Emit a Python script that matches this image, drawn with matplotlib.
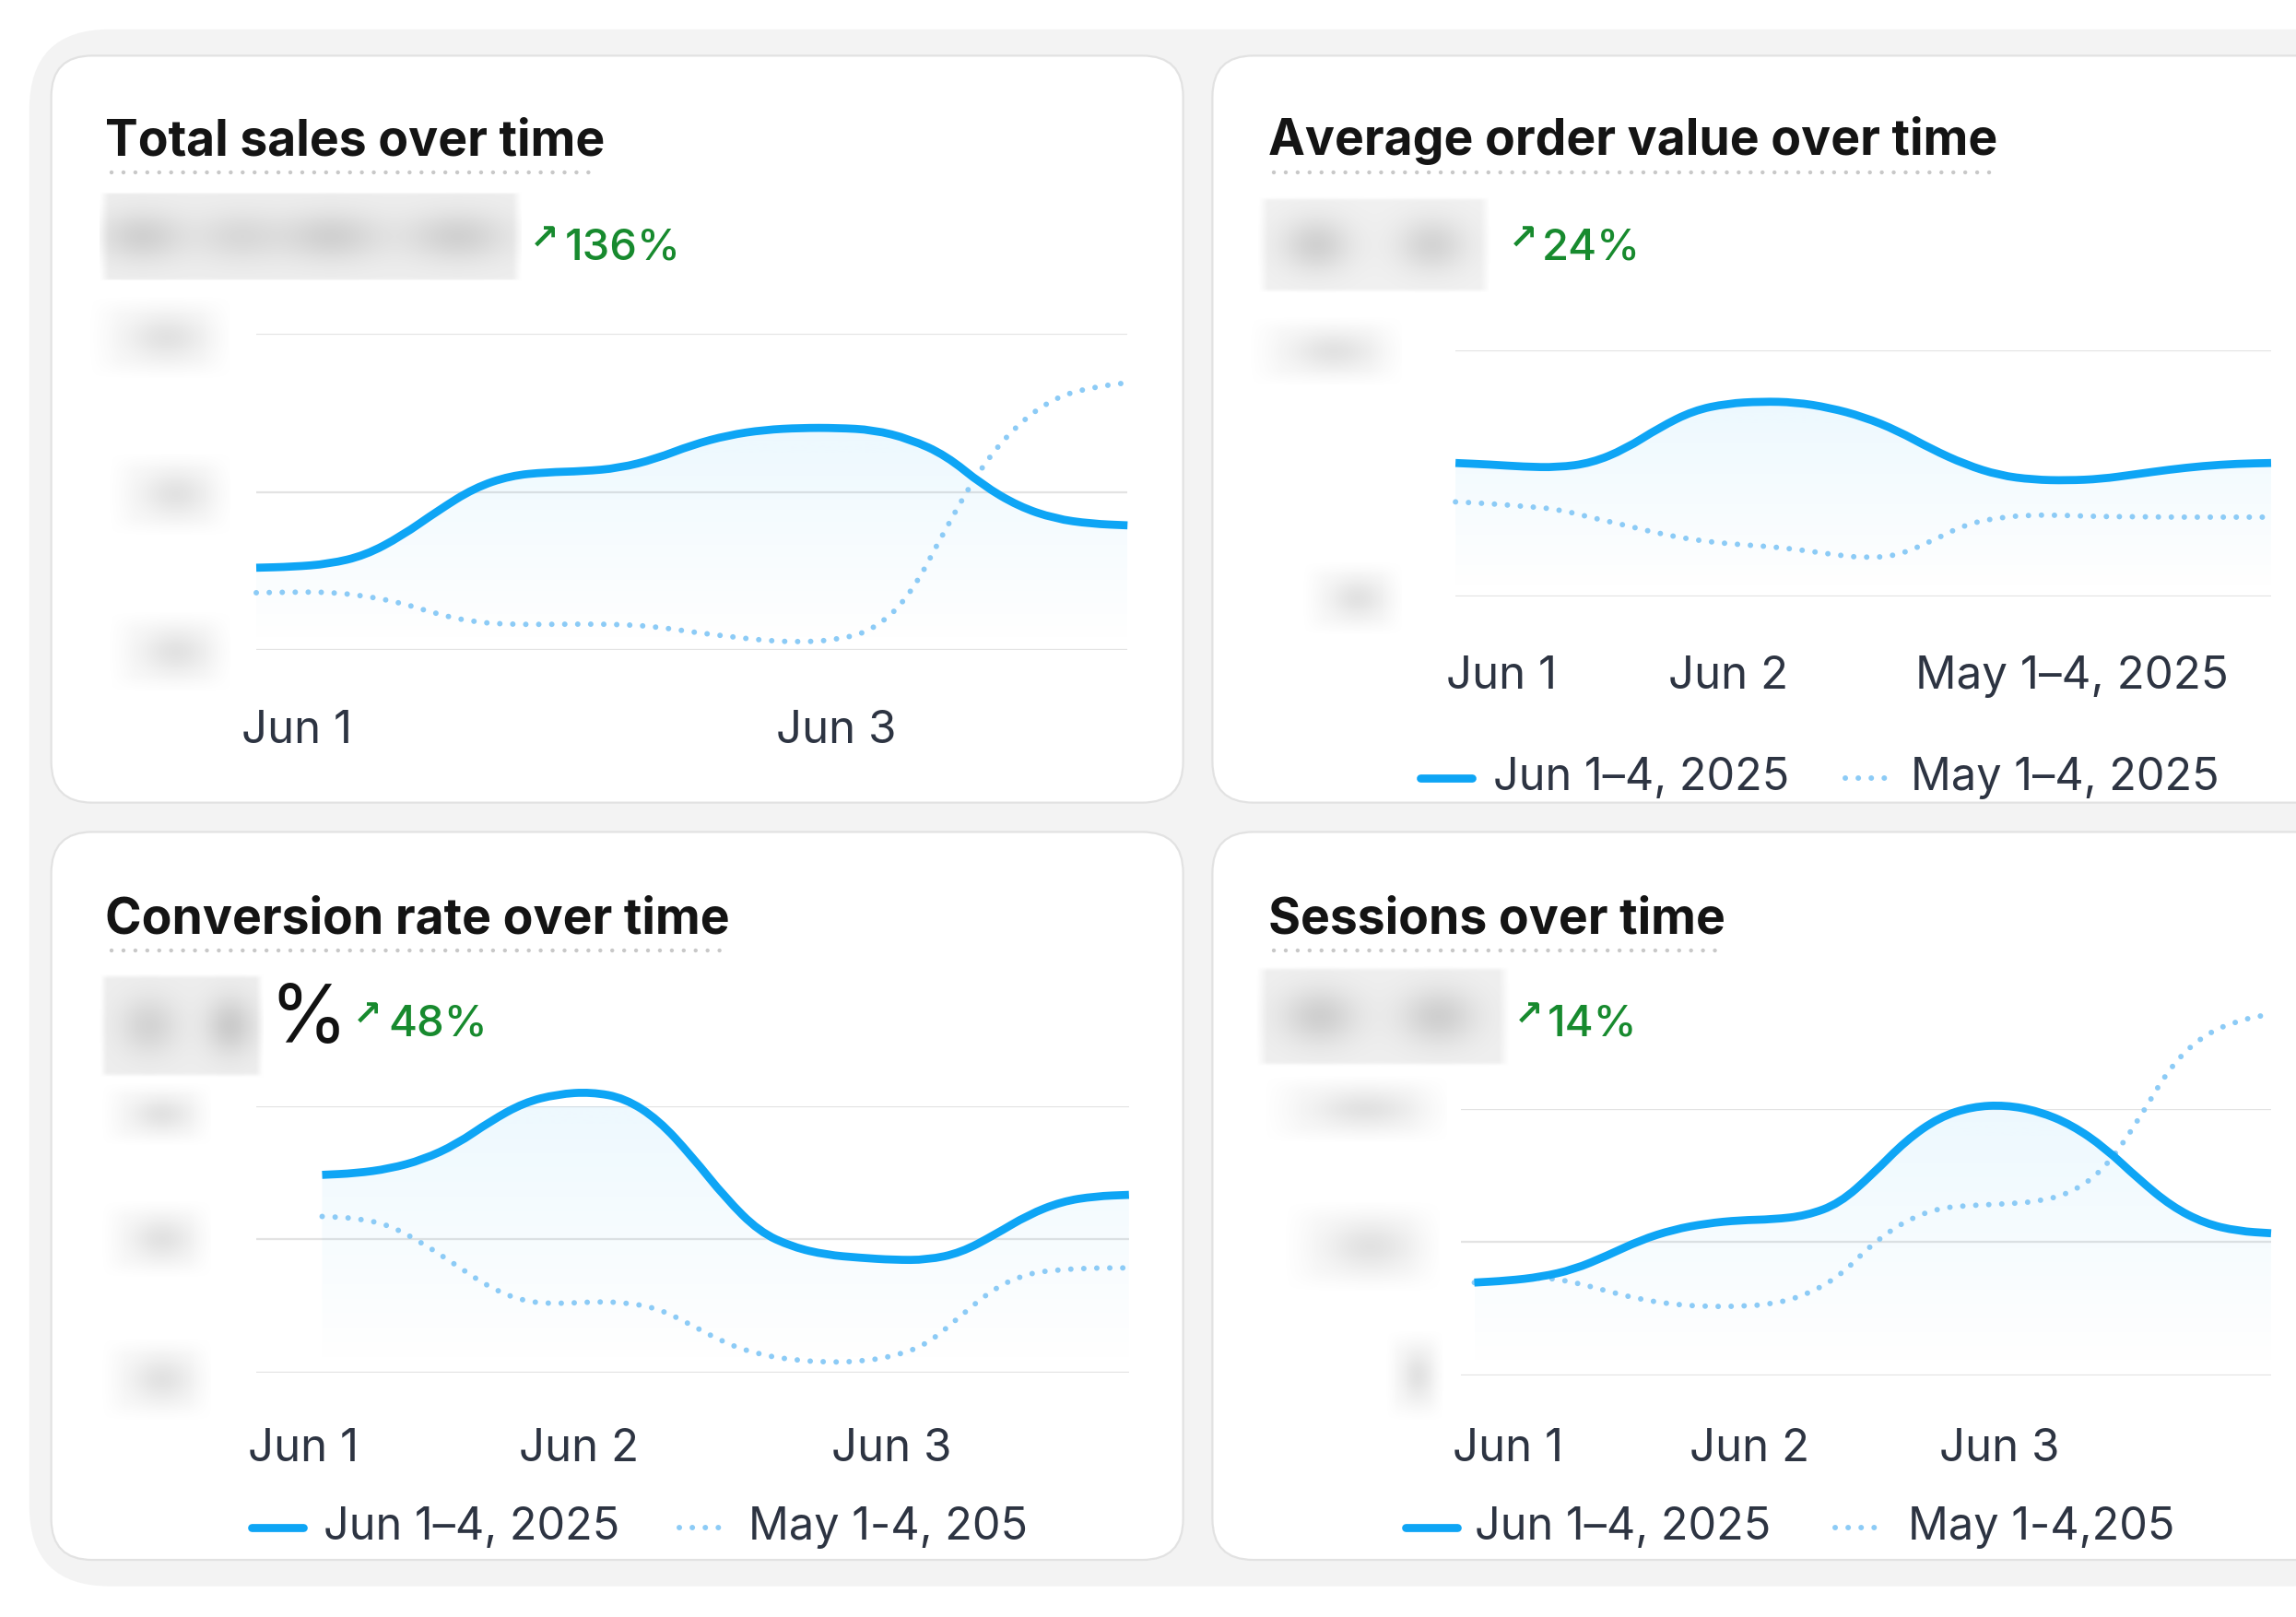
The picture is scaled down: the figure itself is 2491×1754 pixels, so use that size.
import numpy as np
import matplotlib.pyplot as plt
from matplotlib.patches import FancyBboxPatch, PathPatch
from matplotlib.path import Path
from matplotlib.colors import to_rgb

plt.rcParams['font.family'] = ['Inter', 'DejaVu Sans']

# ---- data (y in % of the top gridline) ----
sales_now = [26.1, 26.4, 27.3, 30.0, 36.1, 44.1, 51.3, 55.2, 56.3, 56.6, 57.6, 60.5, 64.9,
             68.0, 69.7, 70.3, 70.3, 69.7, 66.8, 61.6, 52.3, 45.5, 41.6, 40.0, 39.5]
sales_prev = [18.2, 18.4, 18.4, 17.2, 15.0, 11.4, 8.9, 8.2, 8.2, 8.3, 8.2, 7.5, 5.8,
              4.4, 3.1, 2.6, 3.3, 6.3, 16.9, 38.7, 58.6, 71.8, 79.9, 83.1, 84.6]

aov_now = [54.1, 53.5, 52.6, 52.3, 54.1, 59.8, 68.5, 75.4, 78.3, 79.1, 78.8, 76.6, 72.9,
           67.3, 59.8, 53.5, 49.1, 47.3, 47.0, 47.6, 49.5, 51.4, 52.9, 53.8, 54.1]
aov_prev = [38.3, 37.6, 36.5, 35.4, 31.9, 28.8, 25.4, 22.9, 21.3, 20.4, 19.1, 17.1, 15.5,
            16.4, 22.3, 29.1, 32.0, 33.0, 32.8, 32.3, 32.3, 32.1, 32.1, 32.1, 32.1]

conv_now = [74.1, 74.7, 76.4, 79.8, 85.6, 94.2, 101.2, 104.4, 105.2, 102.9, 94.8, 81.0, 65.4,
            52.8, 47.0, 44.1, 43.0, 42.2, 42.2, 44.9, 51.6, 59.1, 64.1, 66.1, 66.6]
conv_prev = [58.5, 57.9, 55.3, 48.4, 40.1, 31.7, 26.6, 25.7, 26.5, 26.3, 24.0, 17.7, 10.9,
             6.7, 4.7, 3.8, 4.1, 6.0, 10.5, 21.3, 31.7, 37.2, 38.6, 39.2, 39.2]

sess_now = [34.8, 35.5, 36.9, 39.7, 44.9, 50.7, 54.7, 57.0, 58.2, 58.5, 59.9, 64.5, 75.5,
            88.1, 96.8, 100.8, 101.4, 99.1, 93.9, 85.3, 73.7, 63.4, 57.0, 54.1, 53.3]
sess_prev = [34.8, 35.5, 36.9, 35.0, 31.6, 28.5, 26.6, 25.8, 25.9, 26.7, 30.2, 37.1, 49.5,
             58.1, 62.8, 63.8, 64.3, 65.2, 68.5, 77.5, 95.6, 116.7, 127.9, 133.1, 135.6]

titles = ["Total sales over time", "Average order value over time",
          "Conversion rate over time", "Sessions over time"]
changes = ["136%", "24%", "48%", "14%"]
sales_ticks = ["Jun 1", "Jun 3"]
aov_ticks = ["Jun 1", "Jun 2", "May 1\u20134, 2025"]
conv_ticks = ["Jun 1", "Jun 2", "Jun 3"]
sess_ticks = ["Jun 1", "Jun 2", "Jun 3"]
aov_legend = ["Jun 1\u20134, 2025", "May 1\u20134, 2025"]
conv_legend = ["Jun 1\u20134, 2025", "May 1-4, 205"]
sess_legend = ["Jun 1\u20134, 2025", "May 1-4,205"]

BLUE = '#0ea5f5'
LIGHT = '#8ccbf6'
GREEN = '#178a2e'
INK = '#2d3442'

# layout units = reference picture scaled to 1568 wide
W, H = 1568, 1104
fig = plt.figure(figsize=(24.91, 17.54), dpi=100)
fig.patch.set_facecolor('white')
bg = fig.add_axes([0, 0, 1, 1])
bg.set_xlim(0, W)
bg.set_ylim(H, 0)
bg.axis('off')


def rect(x0, y0, x1, y1):
    return [x0 / W, 1 - y1 / H, (x1 - x0) / W, (y1 - y0) / H]


def card(x0, y0, x1, y1, r, fc, ec='none'):
    bg.add_patch(FancyBboxPatch((x0, y0), x1 - x0, y1 - y0,
                                boxstyle=f'round,pad=0,rounding_size={r}',
                                fc=fc, ec=ec, lw=1.6))


def blur(x0, y0, x1, y1, blobs, base=0.1, edge=0.15, shade=0.78):
    # blurred placeholder for hidden numbers
    h = 60
    w = max(int(h * (x1 - x0) / (y1 - y0)), 10)
    yy, xx = np.mgrid[0:1:h * 1j, 0:1:w * 1j]
    win = np.clip(np.minimum(xx, 1 - xx) / edge, 0, 1) * np.clip(np.minimum(yy, 1 - yy) / edge, 0, 1)
    a = base * win
    for cx, sx, amp in blobs:
        a = a + amp * np.exp(-((xx - cx) / sx) ** 2 - ((yy - 0.5) / 0.28) ** 2)
    img = np.zeros((h, w, 4))
    img[..., :3] = shade
    img[..., 3] = np.clip(a, 0, 1)
    bg.imshow(img, extent=(x0, x1, y1, y0), aspect='auto', interpolation='bilinear', zorder=2)


def smooth(x, y):
    # quadratic b-spline style path through the read points (rendering only)
    pts = np.column_stack([x, y])
    verts = [pts[0], (pts[0] + pts[1]) / 2]
    codes = [Path.MOVETO, Path.LINETO]
    for i in range(1, len(pts) - 1):
        verts += [pts[i], (pts[i] + pts[i + 1]) / 2]
        codes += [Path.CURVE3, Path.CURVE3]
    verts.append(pts[-1])
    codes.append(Path.LINETO)
    return verts, codes


# background and cards
card(20, 20, 1620, 1083, 55, '#f3f3f3')
card(35, 38, 808, 548, 28, 'white', '#e2e2e2')
card(828, 38, 1620, 548, 28, 'white', '#e2e2e2')
card(35, 568, 808, 1065, 28, 'white', '#e2e2e2')
card(828, 568, 1620, 1065, 28, 'white', '#e2e2e2')


def draw_chart(box, x0f, now, prev, grids, tickpos, ticklabels, pad):
    ax = fig.add_axes(rect(*box))
    ax.patch.set_alpha(0)
    x = np.linspace(x0f, 1, len(now))
    for g in grids:
        ax.axhline(g, color='#e3e3e3', lw=1.6, zorder=0)

    v, c = smooth(x, now)
    area = Path(v + [(1, 0), (x0f, 0), (x0f, 0)], c + [Path.LINETO, Path.LINETO, Path.CLOSEPOLY])
    img = np.zeros((100, 1, 4))
    img[..., :3] = to_rgb(BLUE)
    img[:, 0, 3] = np.linspace(0, 0.075, 100)
    im = ax.imshow(img, extent=(x0f, 1, 0, max(now)), origin='lower', aspect='auto',
                   interpolation='bilinear', zorder=1)
    im.set_clip_path(area, transform=ax.transData)

    vp, cp = smooth(x, prev)
    ax.add_patch(PathPatch(Path(vp, cp), fill=False, ec=LIGHT, lw=4.3, ls=(0, (0.01, 2.35)),
                           capstyle='round', clip_on=False, zorder=2))
    ax.add_patch(PathPatch(Path(v, c), fill=False, ec=BLUE, lw=6.3, capstyle='butt',
                           joinstyle='round', clip_on=False, zorder=3))
    ax.set_xlim(0, 1)
    ax.set_ylim(0, 100)
    ax.set_xticks(tickpos, ticklabels)
    ax.set_yticks([])
    ax.tick_params(axis='x', length=0, pad=pad, labelsize=35.5, labelcolor=INK)
    plt.setp(ax.get_xticklabels(), va='center')
    for s in ax.spines.values():
        s.set_visible(False)
    return ax


draw_chart((175, 228, 770, 444), 0.0, sales_now, sales_prev, [0, 50, 100],
           [0.047, 0.666], sales_ticks, 63)
draw_chart((994, 239, 1551, 407), 0.0, aov_now, aov_prev, [0, 100],
           [0.056, 0.334, 0.756], aov_ticks, 63)
draw_chart((175, 755, 771, 937), 0.0755, conv_now, conv_prev, [0, 50, 100],
           [0.054, 0.370, 0.728], conv_ticks, 60)
draw_chart((998, 757, 1551, 939), 0.016, sess_now, sess_prev, [0, 50, 100],
           [0.058, 0.356, 0.665], sess_ticks, 58)

# headers
title_pos = [(72, 106, 118), (866, 106, 118), (72, 637, 649), (866, 637, 649)]
title_art = []
for t, (tx, ty, _) in zip(titles, title_pos):
    title_art.append(bg.text(tx, ty, t, fontsize=38.5, fontweight='bold', color='#141414',
                             va='baseline', ha='left', zorder=5))

change_pos = [(372, 164, 386, 177), (1040, 164, 1053, 177),
              (251, 694, 265, 707), (1044, 694, 1057, 707)]
for c, (ax_, ay_, tx, ty) in zip(changes, change_pos):
    bg.text(ax_, ay_, '\u2197', family='DejaVu Sans', fontsize=27, fontweight='bold',
            color=GREEN, ha='center', va='center', zorder=5)
    bg.text(tx, ty, c, fontsize=34, fontweight='medium', color=GREEN, va='baseline',
            ha='left', zorder=5)

bg.text(184, 712, '%', fontsize=62, color='#111111', va='baseline', ha='left', zorder=5)

# blurred values
blur(68, 131, 356, 192, [(0.1, 0.1, 0.5), (0.33, 0.1, 0.35), (0.55, 0.12, 0.5), (0.85, 0.12, 0.5)],
     base=0.3, edge=0.02)
blur(859, 134, 1017, 200, [(0.25, 0.15, 0.55), (0.75, 0.15, 0.5)], base=0.25, edge=0.04)
blur(68, 665, 180, 736, [(0.3, 0.18, 0.45), (0.8, 0.15, 0.6)], base=0.3, edge=0.04)
blur(858, 660, 1031, 728, [(0.25, 0.15, 0.55), (0.72, 0.15, 0.55)], base=0.28, edge=0.04)

ylab_boxes = [(62, 203, 157, 258), (75, 310, 157, 365), (75, 418, 157, 472),
              (854, 217, 957, 263), (890, 384, 957, 433),
              (70, 740, 144, 782), (70, 821, 144, 872), (70, 914, 144, 969),
              (864, 735, 988, 780), (878, 821, 983, 881), (947, 909, 986, 969)]
for b in ylab_boxes:
    blur(*b, [(0.55, 0.28, 0.4)], base=0.1, edge=0.2)

bg.set_xlim(0, W)
bg.set_ylim(H, 0)

# dotted underline under each title
fig.canvas.draw()
inv = bg.transData.inverted()
for art, (_, _, uy) in zip(title_art, title_pos):
    bb = art.get_window_extent()
    xa = inv.transform((bb.x0, bb.y0))[0]
    xb = inv.transform((bb.x1, bb.y0))[0]
    bg.plot([xa + 4, xb - 4], [uy, uy], color='#c8c8c8', lw=3.2, ls=(0, (0.01, 2.9)),
            dash_capstyle='round', zorder=5)


# legends
def legend(xs, xt1, xd, xt2, y, labels):
    bg.plot([xs, xs + 35], [y, y], color=BLUE, lw=6.3, solid_capstyle='round', zorder=5)
    bg.text(xt1, y, labels[0], fontsize=35, color=INK, va='center', ha='left', zorder=5)
    bg.plot([xd, xd + 32], [y, y], color=LIGHT, lw=4.3, ls=(0, (0.01, 2.35)),
            dash_capstyle='round', zorder=5)
    bg.text(xt2, y, labels[1], fontsize=35, color=INK, va='center', ha='left', zorder=5)


legend(970, 1020, 1260, 1305, 531, aov_legend)
legend(172, 221, 464, 511, 1043, conv_legend)
legend(960, 1007, 1253, 1303, 1043, sess_legend)

fig.savefig('out.png', dpi=100)
